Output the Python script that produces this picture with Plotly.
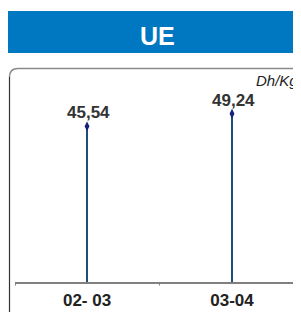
import plotly.graph_objects as go

categories = ["02- 03", "03-04"]
values = [45.54, 49.24]
value_labels = ["45,54", "49,24"]
title_text = "UE"
unit_text = "Dh/Kg"

OFF = 8  # page body margin
W, H = 293, 305
ML, MR, MT, MB = 7, 0, 62, 31
PW, PH = W - ML - MR, H - MT - MB

def px(x):  # page pixel x -> paper
    return (x - OFF - ML) / PW

def py(y):  # page pixel y -> paper
    return (H - MB - (y - OFF)) / PH

FONT = "Liberation Sans, Arial"

fig = go.Figure()
fig.add_trace(go.Bar(
    x=categories, y=values, width=0.014,
    marker=dict(color="#1F4E79", line=dict(width=0)),
    hoverinfo="skip", showlegend=False,
))
fig.add_trace(go.Scatter(
    x=categories, y=values, mode="markers",
    marker=dict(symbol="diamond-tall", size=7, color="#16207A"),
    hoverinfo="skip", showlegend=False, cliponaxis=False,
))

shapes = [
    dict(type="rect", xref="paper", yref="paper",
         x0=px(8), x1=px(310), y0=py(53), y1=py(11),
         fillcolor="#0078C1", line=dict(width=0), layer="below"),
    dict(type="path", xref="paper", yref="paper",
         path=f"M {px(9.5)},{py(77)} Q {px(9.5)},{py(68.5)} {px(18)},{py(68.5)} L {px(310)},{py(68.5)}",
         line=dict(color="#8a8a8a", width=1.5)),
    dict(type="line", xref="paper", yref="paper",
         x0=px(9.5), x1=px(9.5), y0=py(312), y1=py(77),
         line=dict(color="#333333", width=1.2)),
    dict(type="line", xref="x", yref="paper", x0=0.5, x1=0.5, y0=py(282), y1=py(285.5),
         line=dict(color="#808080", width=1)),
    dict(type="line", xref="paper", yref="paper", x0=px(15.5), x1=px(15.5), y0=py(282), y1=py(285.5),
         line=dict(color="#808080", width=1)),
]

annotations = [
    dict(text=f"<b>{title_text}</b>", xref="paper", yref="paper",
         x=px(157), y=py(36), xanchor="center", yanchor="middle", showarrow=False,
         font=dict(family=FONT, size=25, color="white")),
    dict(text=f"<i>{unit_text}</i>", xref="paper", yref="paper",
         x=px(300), y=py(80), xanchor="right", yanchor="middle", showarrow=False,
         font=dict(family=FONT, size=15, color="#222222")),
]
for c, v, t in zip(categories, values, value_labels):
    annotations.append(dict(
        text=f"<b>{t}</b>", x=c, y=v, xref="x", yref="y",
        xanchor="center", yanchor="middle", yshift=13.5, xshift=1.5, showarrow=False,
        font=dict(family=FONT, size=17, color="#333333"),
    ))

fig.update_layout(
    width=W, height=H,
    margin=dict(l=ML, r=MR, t=MT, b=MB, pad=0),
    paper_bgcolor="white", plot_bgcolor="white",
    shapes=shapes, annotations=annotations,
    bargap=0,
    xaxis=dict(
        type="category", range=[-0.497, 1.476],
        showline=True, linecolor="#808080", linewidth=1.5,
        ticks="outside", ticklen=2, tickcolor="rgba(0,0,0,0)",
        showgrid=False, zeroline=False,
        tickfont=dict(family=FONT, size=17, color="#222222"),
        tickvals=categories, ticktext=[f"<b>{c}</b>" for c in categories],
    ),
    yaxis=dict(range=[0, 62.0], visible=False, showgrid=False, zeroline=False),
)

fig.write_html("out.html")
